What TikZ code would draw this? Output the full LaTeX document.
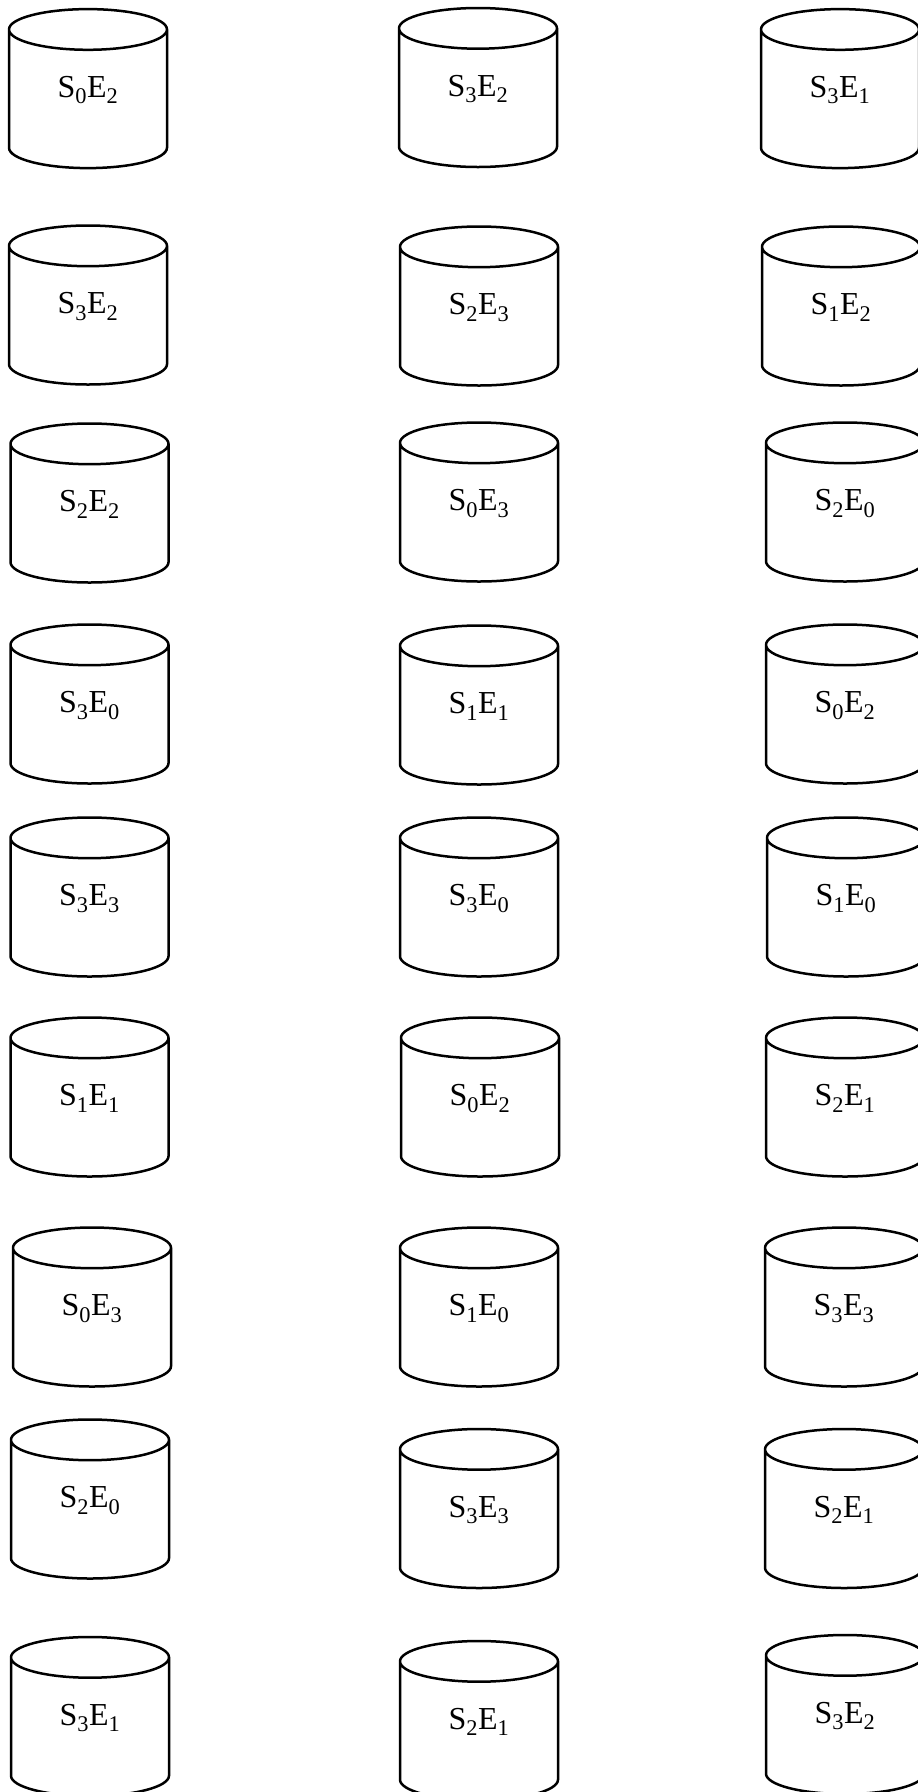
\documentclass[tikz,border=0pt]{standalone}
\usepackage{fontspec}
\setmainfont{Liberation Serif}
\usetikzlibrary{shapes.geometric}

\newcommand{\se}[2]{S\textsubscript{#1}E\textsubscript{#2}}

\begin{document}
\begin{tikzpicture}[x=1pt, y=-1pt, line width=2.5pt,
  drum/.style={cylinder, shape border rotate=90, draw, aspect=0.67,
    minimum width=158pt, minimum height=159pt, inner sep=0pt,
    anchor=shape center, text height=22pt, text depth=26pt,
    font=\fontsize{32}{38}\selectfont}]
\useasboundingbox (0,0) rectangle (918,1792);

% first column
\node [drum] (a1) at (88,88.6)    {\se{0}{2}};
\node [drum] (a2) at (88,305)     {\se{3}{2}};
\node [drum] (a3) at (89.5,503)   {\se{2}{2}};
\node [drum] (a4) at (89.5,704)   {\se{3}{0}};
\node [drum] (a5) at (89.5,897)   {\se{3}{3}};
\node [drum] (a6) at (89.5,1097)  {\se{1}{1}};
\node [drum] (a7) at (92,1307)    {\se{0}{3}};
\node [drum] (a8) at (90,1499)    {\se{2}{0}};
\node [drum] (a9) at (90,1716.5)  {\se{3}{1}};

% second column
\node [drum] (b1) at (478,87.5)   {\se{3}{2}};
\node [drum] (b2) at (479,306)    {\se{2}{3}};
\node [drum] (b3) at (479,502)    {\se{0}{3}};
\node [drum] (b4) at (479,705)    {\se{1}{1}};
\node [drum] (b5) at (479,897)    {\se{3}{0}};
\node [drum] (b6) at (480,1097)   {\se{0}{2}};
\node [drum] (b7) at (479,1307)   {\se{1}{0}};
\node [drum] (b8) at (479,1508.5) {\se{3}{3}};
\node [drum] (b9) at (479,1720.5) {\se{2}{1}};

% third column
\node [drum] (c1) at (840,88.6)   {\se{3}{1}};
\node [drum] (c2) at (841,306)    {\se{1}{2}};
\node [drum] (c3) at (845,502)    {\se{2}{0}};
\node [drum] (c4) at (845,704)    {\se{0}{2}};
\node [drum] (c5) at (846,897)    {\se{1}{0}};
\node [drum] (c6) at (845,1097)   {\se{2}{1}};
\node [drum] (c7) at (844,1307)   {\se{3}{3}};
\node [drum] (c8) at (844,1508.5) {\se{2}{1}};
\node [drum] (c9) at (845,1714.5) {\se{3}{2}};
\end{tikzpicture}
\end{document}
